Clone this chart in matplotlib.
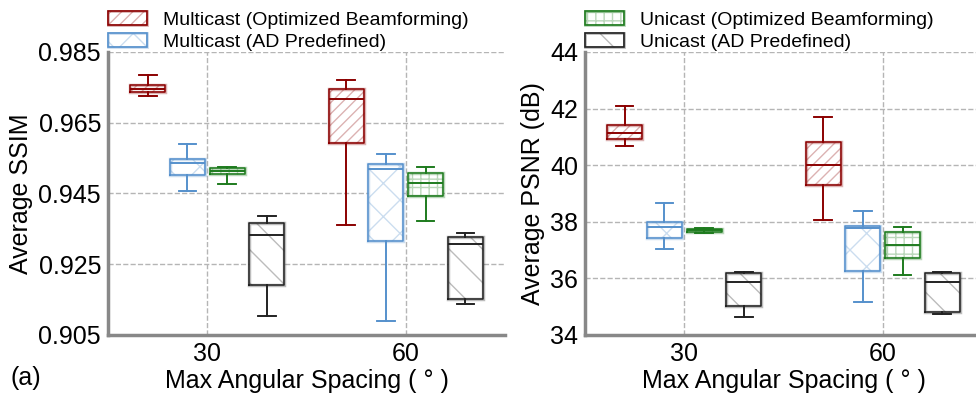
import matplotlib.pyplot as plt
from matplotlib.patches import Patch
from matplotlib.colors import to_rgba
from matplotlib.legend_handler import HandlerTuple

plt.rcParams['font.family'] = ['Liberation Sans', 'DejaVu Sans']

# x groups (max angular spacing, degrees)
groups = [30, 60]
offsets = [-9, -3, 3, 9]
box_w = 5.3

names = ['Multicast (Optimized Beamforming)', 'Multicast (AD Predefined)',
         'Unicast (Optimized Beamforming)', 'Unicast (AD Predefined)']
colors = ['#8b0000', '#5590cc', '#1e7b1e', '#222222']
hatches = ['///', 'x', '++', '\\']

# five-number summaries: [low whisker, q1, median, q3, high whisker]
# SSIM, per scheme, for 30 and 60 degrees
ssim_mo = [[0.9725, 0.9736, 0.9745, 0.9756, 0.9784], [0.9362, 0.9592, 0.9717, 0.9746, 0.9770]]
ssim_ma = [[0.9456, 0.9501, 0.9535, 0.9547, 0.9589], [0.9089, 0.9315, 0.9519, 0.9534, 0.9563]]
ssim_uo = [[0.9478, 0.9505, 0.9513, 0.9521, 0.9525], [0.9373, 0.9442, 0.9480, 0.9508, 0.9525]]
ssim_ua = [[0.9104, 0.9191, 0.9332, 0.9368, 0.9385], [0.9138, 0.9153, 0.9307, 0.9327, 0.9337]]

# PSNR (dB)
psnr_mo = [[40.69, 40.92, 41.13, 41.41, 42.10], [38.07, 39.31, 40.00, 40.82, 41.69]]
psnr_ma = [[37.03, 37.44, 37.83, 37.99, 38.65], [35.16, 36.26, 37.77, 37.86, 38.38]]
psnr_uo = [[37.60, 37.63, 37.71, 37.76, 37.77], [36.12, 36.72, 37.18, 37.63, 37.81]]
psnr_ua = [[34.63, 35.03, 35.86, 36.20, 36.24], [34.74, 34.80, 35.86, 36.20, 36.24]]

ssim_ticks = [0.905, 0.925, 0.945, 0.965, 0.985]
psnr_ticks = [34, 36, 38, 40, 42, 44]


def draw(ax, series):
    for k, s in enumerate(series):
        stats = []
        for g, v in enumerate(s):
            stats.append({'whislo': v[0], 'q1': v[1], 'med': v[2], 'q3': v[3],
                          'whishi': v[4], 'fliers': []})
        pos = [x + offsets[k] for x in groups]
        c = colors[k]
        light = to_rgba(c, 0.3)
        # light hatched box with a soft halo
        ax.bxp(stats, positions=pos, widths=box_w, patch_artist=True, showfliers=False,
               boxprops=dict(facecolor='white', edgecolor=light, linewidth=2.5, hatch=hatches[k]),
               whiskerprops=dict(color=c, linewidth=1.2),
               capprops=dict(color=c, linewidth=1.2),
               medianprops=dict(color=c, linewidth=1.2))
        # crisp outline on top
        ax.bxp(stats, positions=pos, widths=box_w, showfliers=False,
               boxprops=dict(color=c, linewidth=1.1),
               whiskerprops=dict(color=c, linewidth=1.2),
               capprops=dict(color=c, linewidth=1.2),
               medianprops=dict(color=c, linewidth=1.2))


def style(ax, yt, ylab):
    ax.set_xlim(15, 75)
    ax.set_ylim(yt[0], yt[-1])
    ax.set_xticks(groups)
    ax.set_xticklabels([str(g) for g in groups])
    ax.set_yticks(yt)
    ax.grid(True, linestyle='--', color='#b5b5b5', linewidth=1.0)
    ax.set_axisbelow(True)
    for sp in ['top', 'right']:
        ax.spines[sp].set_visible(False)
    for sp in ['left', 'bottom']:
        ax.spines[sp].set_color('#888888')
        ax.spines[sp].set_linewidth(2.5)
    ax.tick_params(length=0, labelsize=18, pad=5)
    ax.set_ylabel(ylab, fontsize=18, labelpad=4)
    ax.set_xlabel('Max Angular Spacing ( ° )', fontsize=18, labelpad=2)


def add_legend(ax, idx):
    hs = []
    for k in idx:
        c = colors[k]
        hs.append((Patch(facecolor='white', edgecolor=to_rgba(c, 0.3), hatch=hatches[k], linewidth=2.0),
                   Patch(facecolor='none', edgecolor=c, linewidth=1.2)))
    ax.legend(hs, [names[k] for k in idx], handler_map={tuple: HandlerTuple(ndivide=1)},
              loc='upper left', bbox_to_anchor=(0, 1.145), frameon=False, fontsize=14,
              handlelength=2.0, handleheight=0.72, handletextpad=0.82,
              labelspacing=0.22, borderpad=0, borderaxespad=0)


fig = plt.figure(figsize=(9.76, 3.93), dpi=100)
ax1 = fig.add_axes([0.1107, 0.1476, 0.4067, 0.7201])
ax2 = fig.add_axes([0.5994, 0.1476, 0.4067, 0.7201])

draw(ax1, [ssim_mo, ssim_ma, ssim_uo, ssim_ua])
draw(ax2, [psnr_mo, psnr_ma, psnr_uo, psnr_ua])
style(ax1, ssim_ticks, 'Average SSIM')
ax1.set_yticklabels(['%.3f' % t for t in ssim_ticks])
style(ax2, psnr_ticks, 'Average PSNR (dB)')

add_legend(ax1, [0, 1])
add_legend(ax2, [2, 3])

fig.text(0.011, 0.02, '(a)', fontsize=18)

fig.savefig('out.png', dpi=100)
